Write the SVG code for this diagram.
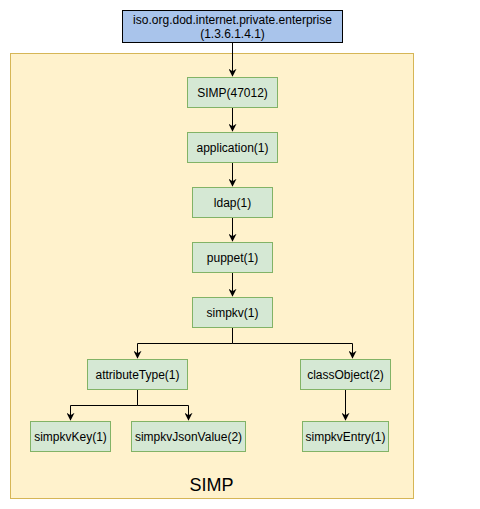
<svg xmlns="http://www.w3.org/2000/svg" width="480" height="509" viewBox="0 0 480 509">
<style>
.n{fill:#d5e8d4;stroke:#82b366;stroke-width:1}
.t{font-family:"Liberation Sans",Arial,sans-serif;font-size:12px;fill:#000;text-anchor:middle}
.e{fill:none;stroke:#000;stroke-width:1}
</style>
<defs>
<marker id="a" viewBox="0 0 10 10" refX="9" refY="5" markerWidth="8" markerHeight="8" markerUnits="userSpaceOnUse" orient="auto">
<path d="M0,0 L10,5 L0,10 L3,5 Z" fill="#000"/>
</marker>
</defs>
<rect width="480" height="509" fill="#fff"/>
<g id="container">
<rect x="10.5" y="53.5" width="403" height="445" fill="#fff2cc" stroke="#d6b656"/>
<text x="211.5" y="491" class="t" style="font-size:18px">SIMP</text>
</g>
<g id="root">
<rect x="122.5" y="10.5" width="220" height="32" fill="#a9c4eb" stroke="#000"/>
<text x="232.5" y="24" class="t">iso.org.dod.internet.private.enterprise</text>
<text x="232.5" y="38" class="t">(1.3.6.1.4.1)</text>
</g>
<g id="connectors">
<path class="e" d="M232.5,42.5 V76" marker-end="url(#a)"/>
<path class="e" d="M232.5,107.5 V131" marker-end="url(#a)"/>
<path class="e" d="M232.5,162.5 V186" marker-end="url(#a)"/>
<path class="e" d="M232.5,217.5 V241" marker-end="url(#a)"/>
<path class="e" d="M232.5,272.5 V296" marker-end="url(#a)"/>
<path class="e" d="M232.5,327.5 V343.5 H137.5 V358" marker-end="url(#a)"/>
<path class="e" d="M232.5,343.5 H352.5 V358" marker-end="url(#a)"/>
<path class="e" d="M137.5,389.5 V405.5 H70.5 V420" marker-end="url(#a)"/>
<path class="e" d="M137.5,405.5 H188.5 V420" marker-end="url(#a)"/>
<path class="e" d="M345.5,389.5 V420" marker-end="url(#a)"/>
</g>
<g id="simp"><rect class="n" x="187.5" y="77.5" width="90" height="30"/><text class="t" x="232.5" y="97">SIMP(47012)</text></g>
<g id="application"><rect class="n" x="187.5" y="132.5" width="90" height="30"/><text class="t" x="232.5" y="152">application(1)</text></g>
<g id="ldap"><rect class="n" x="192.5" y="187.5" width="80" height="30"/><text class="t" x="232.5" y="207">ldap(1)</text></g>
<g id="puppet"><rect class="n" x="192.5" y="242.5" width="80" height="30"/><text class="t" x="232.5" y="262">puppet(1)</text></g>
<g id="simpkv"><rect class="n" x="192.5" y="297.5" width="80" height="30"/><text class="t" x="232.5" y="317">simpkv(1)</text></g>
<g id="attributeType"><rect class="n" x="87.5" y="359.5" width="100" height="30"/><text class="t" x="137.5" y="379">attributeType(1)</text></g>
<g id="classObject"><rect class="n" x="300.5" y="359.5" width="90" height="30"/><text class="t" x="345.5" y="379">classObject(2)</text></g>
<g id="simpkvKey"><rect class="n" x="30.5" y="421.5" width="80" height="30"/><text class="t" x="70.5" y="441">simpkvKey(1)</text></g>
<g id="simpkvJsonValue"><rect class="n" x="131.5" y="421.5" width="114" height="30"/><text class="t" x="188.5" y="441">simpkvJsonValue(2)</text></g>
<g id="simpkvEntry"><rect class="n" x="302.5" y="421.5" width="86" height="30"/><text class="t" x="345.5" y="441">simpkvEntry(1)</text></g>
</svg>
